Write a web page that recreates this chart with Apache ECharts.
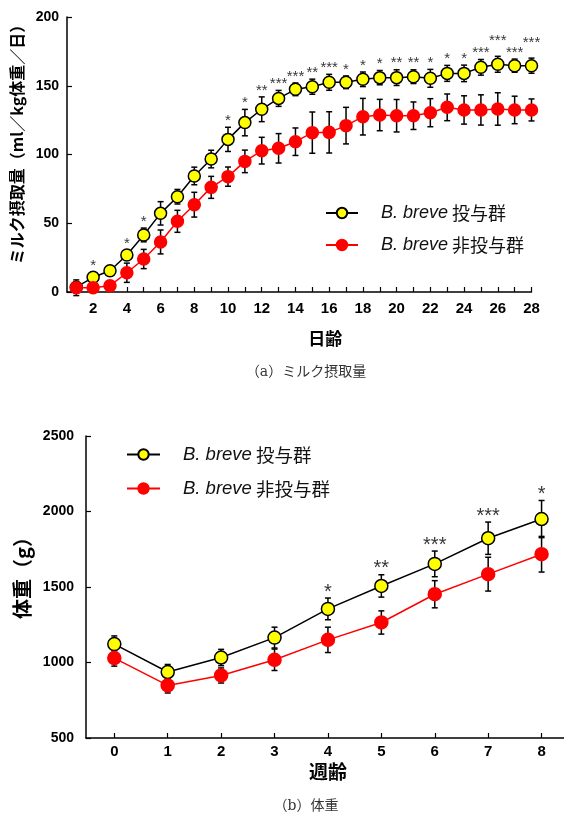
<!DOCTYPE HTML>
<html lang="ja">
  <head>
    <meta charset="utf-8" />
    <script src="https://cdn.jsdelivr.net/npm/echarts@6.0.0/dist/echarts.min.js"></script>
    <style>
      html, body {
        height: 100%;
        padding: 0;
        margin: 0;
        background: #fff;
      }
      #chart {
        width: 564px;
        height: 817px;
      }
    </style>
  </head>
  <body>
    <div id="chart"></div>
    <script>
      // (a) milk intake, ml/kg/day
      var days = [1, 2, 3, 4, 5, 6, 7, 8, 9, 10, 11, 12, 13, 14, 15, 16, 17, 18, 19, 20, 21, 22, 23, 24, 25, 26, 27, 28];
      var dayLabels = [2, 4, 6, 8, 10, 12, 14, 16, 18, 20, 22, 24, 26, 28];
      var milkYes = [3.5, 10.7, 15.5, 26.9, 41.5, 57.2, 69.3, 84.4, 96.7, 111, 123.2, 132.9, 140.8, 147.4, 149.3, 152.5, 152.5, 154.7, 155.9, 155.9, 156.6, 155.4, 159, 159, 163.4, 165.6, 164.6, 164.6];
      var milkYesErr = [4, 3.5, 3.5, 3.6, 5, 8.5, 5.3, 6.4, 6.4, 8.8, 9.6, 9, 5.8, 4.6, 5.5, 5.8, 4.6, 5.3, 5.2, 5.7, 5, 6.5, 5.8, 6, 5.7, 5.8, 4.8, 5.5];
      var milkNo = [3.1, 3.1, 4.6, 14, 24, 36.4, 51.4, 63.5, 76.1, 83.9, 95, 102.8, 104.5, 109.3, 115.9, 116.1, 121, 127.5, 128.7, 128.2, 128.2, 130.4, 134.3, 132.4, 132.4, 133.1, 132.4, 132.4];
      var milkNoErr = [5.7, 3.6, 3, 7, 7, 8.7, 8, 9, 8, 7, 8.2, 9.7, 10.7, 10, 15, 15, 13.3, 13.3, 11.4, 11.8, 10, 10.2, 9.7, 10.3, 11, 11.8, 10, 8];
      var milkSig = ['', '*', '', '*', '*', '', '', '', '', '*', '*', '**', '***', '***', '**', '***', '*', '*', '*', '**', '**', '*', '*', '*', '***', '***', '***', '***'];

      // (b) body weight, g
      var weeks = [0, 1, 2, 3, 4, 5, 6, 7, 8];
      var bwYes = [1122, 937, 1033, 1165, 1355, 1507, 1653, 1823, 1950];
      var bwYesErr = [54, 50, 54, 69, 72, 74, 85, 107, 123];
      var bwNo = [1029, 848, 914, 1018, 1150, 1265, 1452, 1585, 1717];
      var bwNoErr = [53, 50, 50, 71, 84, 77, 90, 112, 118];
      var bwSig = ['', '', '', '', '*', '**', '***', '***', '*'];

      var names = ['B. breve 投与群', 'B. breve 非投与群'];

      var latin = '"Liberation Sans", Arial, sans-serif';
      var jp = '"Noto Sans CJK JP", "Liberation Sans", sans-serif';

      function pairs(xs, ys) {
        return xs.map(function (x, i) { return [x, ys[i]]; });
      }
      function errData(xs, ys, es) {
        return xs.map(function (x, i) { return [x, ys[i] - es[i], ys[i] + es[i]]; });
      }
      // star labels sit on top of the error bar; two wide "***" marks at
      // almost the same height would collide, so every second one is lifted
      function sigData(xs, ys, es, sig, lift) {
        var out = [];
        var prev = null;
        xs.forEach(function (x, i) {
          if (!sig[i]) { prev = null; return; }
          var top = ys[i] + es[i];
          var raise = false;
          if (prev && !prev.raise && prev.sig === '***' && sig[i] === '***' && Math.abs(prev.top - top) < 3) raise = true;
          var item = { value: [x, top], sig: sig[i] };
          if (raise) item.label = { offset: [0, -lift] };
          out.push(item);
          prev = { sig: sig[i], top: top, raise: raise };
        });
        return out;
      }

      function renderErr(cap) {
        return function (params, api) {
          var x = api.value(0);
          var lo = api.coord([x, api.value(1)]);
          var hi = api.coord([x, api.value(2)]);
          var st = { stroke: '#000', lineWidth: 1.5 };
          return {
            type: 'group',
            children: [
              { type: 'line', shape: { x1: lo[0], y1: lo[1], x2: hi[0], y2: hi[1] }, style: st },
              { type: 'line', shape: { x1: lo[0] - cap, y1: lo[1], x2: lo[0] + cap, y2: lo[1] }, style: st },
              { type: 'line', shape: { x1: hi[0] - cap, y1: hi[1], x2: hi[0] + cap, y2: hi[1] }, style: st }
            ]
          };
        };
      }

      function lineSeries(name, data, xi, fill, border, lineColor, size) {
        return {
          name: name,
          type: 'line',
          xAxisIndex: xi,
          yAxisIndex: xi,
          data: data,
          symbol: 'circle',
          symbolSize: size,
          z: fill === '#ff0000' ? 4 : 3,
          itemStyle: { color: fill, borderColor: border, borderWidth: 1.5, opacity: 1 },
          lineStyle: { color: lineColor, width: 1.5 }
        };
      }

      function legendRich(size) {
        return {
          i: { fontStyle: 'italic', fontFamily: latin, fontSize: size, color: '#111' },
          s: { width: 18 }
        };
      }
      function legendFmt(name) {
        return '{s|}{i|B. breve} ' + name.replace('B. breve ', '');
      }

      var axisLine = { onZero: false, lineStyle: { color: '#000', width: 1.5 } };
      var axisTickIn = { inside: true, length: 5, lineStyle: { color: '#000', width: 1.2 } };
      var plain = function (v) { return String(v); };

      var chart = echarts.init(document.getElementById('chart'));
      var option = {
        animation: false,
        grid: [
          { left: 67, top: 17, width: 464.5, height: 275 },
          { left: 86, top: 436, width: 478, height: 302 }
        ],
        xAxis: [
          {
            type: 'value', gridIndex: 0, min: 0.45, max: 28,
            axisLine: axisLine,
            axisTick: Object.assign({ customValues: days }, axisTickIn),
            axisLabel: { customValues: dayLabels, color: '#000', fontFamily: latin, fontWeight: 'bold', fontSize: 15, margin: 9 },
            splitLine: { show: false },
            name: '日齢', nameLocation: 'middle', nameGap: 38,
            nameTextStyle: { fontFamily: jp, fontWeight: 'bold', fontSize: 17, color: '#000', padding: [0, 0, 0, 52] }
          },
          {
            type: 'value', gridIndex: 1, min: -0.53, max: 8.42,
            axisLine: axisLine,
            axisTick: Object.assign({ customValues: weeks }, axisTickIn),
            axisLabel: { customValues: weeks, color: '#000', fontFamily: latin, fontWeight: 'bold', fontSize: 15, margin: 6 },
            splitLine: { show: false },
            name: '週齢', nameLocation: 'middle', nameGap: 24,
            nameTextStyle: { fontFamily: jp, fontWeight: 'bold', fontSize: 19, color: '#000', padding: [0, 0, 0, 6] }
          }
        ],
        yAxis: [
          {
            type: 'value', gridIndex: 0, min: 0, max: 200, interval: 50,
            axisLine: Object.assign({ show: true }, axisLine),
            axisTick: axisTickIn,
            axisLabel: { color: '#000', fontFamily: latin, fontWeight: 'bold', fontSize: 14, margin: 8, formatter: plain },
            splitLine: { show: false },
            name: 'ミルク摂取量（ml／kg体重／日）', nameLocation: 'middle', nameGap: 40,
            nameTextStyle: { fontFamily: jp, fontWeight: 'bold', fontSize: 16, color: '#000', padding: [0, 0, 0, 28] }
          },
          {
            type: 'value', gridIndex: 1, min: 500, max: 2500, interval: 500,
            axisLine: Object.assign({ show: true }, axisLine),
            axisTick: axisTickIn,
            axisLabel: { color: '#000', fontFamily: latin, fontWeight: 'bold', fontSize: 14, margin: 12, formatter: plain },
            splitLine: { show: false },
            name: '体重（g）', nameLocation: 'middle', nameGap: 50,
            nameTextStyle: { fontFamily: jp, fontWeight: 'bold', fontSize: 20, color: '#000', padding: [0, 0, 0, 28] }
          }
        ],
        legend: [
          {
            data: names, orient: 'vertical', left: 320, top: 199,
            itemWidth: 32, itemHeight: 13, itemGap: 14, selectedMode: false,
            formatter: legendFmt,
            textStyle: { fontFamily: jp, fontSize: 18, color: '#111', rich: legendRich(18) }
          },
          {
            data: names, orient: 'vertical', left: 121, top: 440,
            itemWidth: 33, itemHeight: 13, itemGap: 15, selectedMode: false,
            formatter: legendFmt,
            textStyle: { fontFamily: jp, fontSize: 18.5, color: '#111', rich: legendRich(18.5) }
          }
        ],
        graphic: [
          {
            type: 'text', x: 306, y: 372,
            style: { text: '（a）ミルク摂取量', fill: '#333', font: '14px "DejaVu Serif", "Noto Sans CJK JP"', align: 'center', verticalAlign: 'middle' }
          },
          {
            type: 'text', x: 306, y: 806,
            style: { text: '（b）体重', fill: '#333', font: '14px "DejaVu Serif", "Noto Sans CJK JP"', align: 'center', verticalAlign: 'middle' }
          }
        ],
        series: [
          // error bars
          { type: 'custom', xAxisIndex: 0, yAxisIndex: 0, z: 2, renderItem: renderErr(3), encode: { x: 0, y: [1, 2] }, data: errData(days, milkYes, milkYesErr) },
          { type: 'custom', xAxisIndex: 0, yAxisIndex: 0, z: 2, renderItem: renderErr(3), encode: { x: 0, y: [1, 2] }, data: errData(days, milkNo, milkNoErr) },
          { type: 'custom', xAxisIndex: 1, yAxisIndex: 1, z: 2, renderItem: renderErr(3), encode: { x: 0, y: [1, 2] }, data: errData(weeks, bwYes, bwYesErr) },
          { type: 'custom', xAxisIndex: 1, yAxisIndex: 1, z: 2, renderItem: renderErr(3), encode: { x: 0, y: [1, 2] }, data: errData(weeks, bwNo, bwNoErr) },
          // means
          lineSeries(names[0], pairs(days, milkYes), 0, '#ffff00', '#000', '#000', 12),
          lineSeries(names[1], pairs(days, milkNo), 0, '#ff0000', '#ff0000', '#ff0000', 12),
          lineSeries(names[0], pairs(weeks, bwYes), 1, '#ffff00', '#000', '#000', 13),
          lineSeries(names[1], pairs(weeks, bwNo), 1, '#ff0000', '#ff0000', '#ff0000', 13),
          // significance marks
          {
            type: 'scatter', xAxisIndex: 0, yAxisIndex: 0, symbolSize: 0, z: 5,
            data: sigData(days, milkYes, milkYesErr, milkSig, 9),
            label: { show: true, position: 'top', distance: -1, color: '#000', fontFamily: latin, fontSize: 15,
              formatter: function (p) { return p.data.sig; } }
          },
          {
            type: 'scatter', xAxisIndex: 1, yAxisIndex: 1, symbolSize: 0, z: 5,
            data: sigData(weeks, bwYes, bwYesErr, bwSig, 0),
            label: { show: true, position: 'top', distance: -4, color: '#000', fontFamily: latin, fontSize: 20,
              formatter: function (p) { return p.data.sig; } }
          }
        ]
      };
      chart.setOption(option);
    </script>
  </body>
</html>
